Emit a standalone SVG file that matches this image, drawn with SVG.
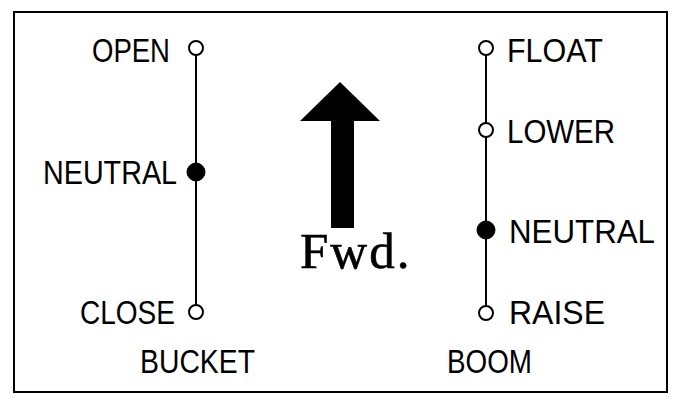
<svg xmlns="http://www.w3.org/2000/svg" width="681" height="403" viewBox="0 0 681 403">
<style>
.lbl{font-family:"Liberation Sans",Arial,sans-serif;font-size:33px;fill:#000}
.open{fill:#fff;stroke:#000;stroke-width:2}
.closed{fill:#000;stroke:#000;stroke-width:1}
.ln{stroke:#000;stroke-width:2;fill:none}
</style>
<rect x="0" y="0" width="681" height="403" fill="#fff"/>
<rect x="14" y="12" width="653" height="380" fill="none" stroke="#000" stroke-width="2"/>
<g id="connectors">
<line class="ln" x1="196" y1="55" x2="196" y2="305"/>
<line class="ln" x1="486" y1="55" x2="486" y2="306"/>
</g>
<g id="bucket-open"><circle class="open" cx="196" cy="48" r="7"/><text class="lbl" x="92" y="62" textLength="78" lengthAdjust="spacingAndGlyphs">OPEN</text></g>
<g id="bucket-neutral"><circle class="closed" cx="196" cy="172" r="9"/><text class="lbl" x="43" y="184" textLength="134" lengthAdjust="spacingAndGlyphs">NEUTRAL</text></g>
<g id="bucket-close"><circle class="open" cx="196" cy="312" r="7"/><text class="lbl" x="80" y="324" textLength="95" lengthAdjust="spacingAndGlyphs">CLOSE</text></g>
<g id="bucket-label"><text class="lbl" x="140" y="373" textLength="115" lengthAdjust="spacingAndGlyphs">BUCKET</text></g>
<g id="boom-float"><circle class="open" cx="486" cy="48" r="7"/><text class="lbl" x="507" y="62" textLength="96" lengthAdjust="spacingAndGlyphs">FLOAT</text></g>
<g id="boom-lower"><circle class="open" cx="486" cy="130" r="7"/><text class="lbl" x="507" y="143" textLength="108" lengthAdjust="spacingAndGlyphs">LOWER</text></g>
<g id="boom-neutral"><circle class="closed" cx="486" cy="230" r="9"/><text class="lbl" x="509" y="243" textLength="146" lengthAdjust="spacingAndGlyphs">NEUTRAL</text></g>
<g id="boom-raise"><circle class="open" cx="486" cy="313" r="7"/><text class="lbl" x="509" y="324" textLength="96" lengthAdjust="spacingAndGlyphs">RAISE</text></g>
<g id="boom-label"><text class="lbl" x="447" y="373" textLength="85" lengthAdjust="spacingAndGlyphs">BOOM</text></g>
<g id="fwd-arrow">
<polygon points="340,82 380,121 354,121 354,228 331,228 331,121 300,121" fill="#000"/>
<text x="300" y="268" font-family="'Liberation Serif','Times New Roman',serif" font-size="51" letter-spacing="2" stroke="#000" stroke-width="0.6" fill="#000">Fwd.</text>
</g>
</svg>
